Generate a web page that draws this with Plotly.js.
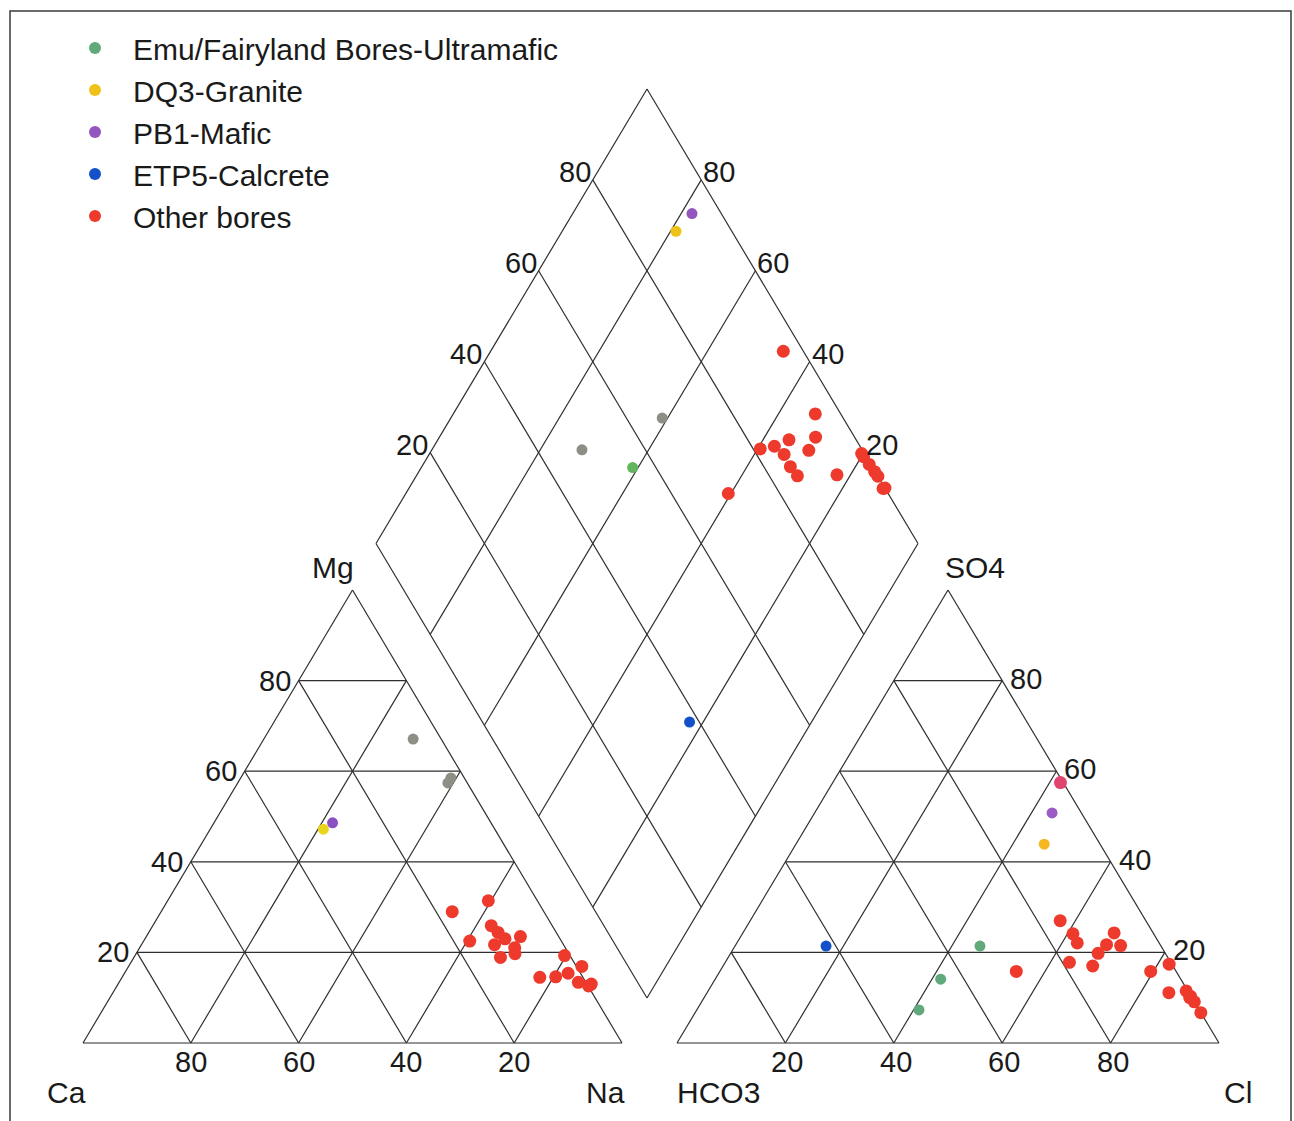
<!DOCTYPE html>
<html>
<head>
<meta charset="utf-8">
<script src="https://cdn.plot.ly/plotly-3.0.1.min.js"></script>
<style>html,body{margin:0;padding:0;background:#fff;}#chart{width:1294px;height:1121px;}</style>
</head>
<body>
<div id="chart"></div>
<script>
// ---------------- DATA (percent of meq) ----------------
const groupNames = ['Emu/Fairyland Bores-Ultramafic', 'DQ3-Granite', 'PB1-Mafic', 'ETP5-Calcrete', 'Other bores'];
const tickValues = [20, 40, 60, 80];

// Emu/Fairyland Bores-Ultramafic
const emuMg   = [67.1, 58.5, 57.4];
const emuNa   = [27.7, 39.0, 39.0];
const emuSO4  = [7.3, 14.1, 21.4];
const emuCl   = [41.0, 41.6, 45.2];

// DQ3-Granite
const dq3Mg  = [47.2];
const dq3Na  = [21.0];
const dq3SO4 = [43.9];
const dq3Cl  = [45.8];

// PB1-Mafic
const pb1Mg  = [48.6];
const pb1Na  = [22.0];
const pb1SO4 = [50.8];
const pb1Cl  = [43.8];

// ETP5-Calcrete
const etpMg  = [14.5];
const etpNa  = [77.5];
const etpSO4 = [21.4];
const etpCl  = [16.8];

// Other bores
const otherMg  = [29.0, 23.0, 24.4, 23.5, 22.5, 25.9, 21.7, 18.9, 21.0, 19.7, 14.5, 31.4, 19.3, 14.6, 15.4, 16.9, 13.4, 13.0, 12.6];
const otherNa  = [54.0, 66.8, 64.8, 69.4, 60.5, 62.8, 65.5, 68.0, 69.6, 70.3, 77.5, 59.5, 79.7, 80.4, 82.3, 84.1, 85.2, 87.8, 87.5];
const otherSO4 = [11.1, 15.8, 19.8, 24.3, 17.8, 27.0, 24.1, 22.1, 21.7, 17.0, 21.5, 15.8, 57.5, 17.4, 11.5, 10.3, 9.1, 6.7, 10.0];
const otherCl  = [85.2, 79.5, 67.8, 68.5, 63.5, 57.2, 61.0, 62.8, 68.4, 68.2, 71.1, 54.7, 42.0, 82.1, 88.2, 89.6, 90.9, 93.3, 89.6];

// ---------------- GEOMETRY (figure pixel space) ----------------
const L = {x0: 83, w: 539, yb: 1043, h: 453};      // cation triangle
const R = {x0: 677, w: 542, yb: 1043, h: 453};     // anion triangle
const D = {xb: 647, yb: 998, hw: 271, hh: 454.5};   // diamond

function catXY(mg, na) { return [L.x0 + (na + mg / 2) * L.w, L.yb - mg * L.h]; }
function anXY(so4, cl) { return [R.x0 + (cl + so4 / 2) * R.w, R.yb - so4 * R.h]; }
function diaXY(u, v) { return [D.xb + (v - u) * D.hw, D.yb - (u + v) * D.hh]; } // u = Ca+Mg, v = SO4+Cl

// ---------------- GRID ----------------
const gx = [], gy = [];
function seg(p, q) { gx.push(p[0], q[0], null); gy.push(p[1], q[1], null); }
function tri(fxy) {
  seg(fxy(0, 0), fxy(0, 1)); seg(fxy(0, 1), fxy(1, 0)); seg(fxy(1, 0), fxy(0, 0));
  tickValues.forEach(tv => {
    const t = tv / 100;
    seg(fxy(t, 0), fxy(t, 1 - t));
    seg(fxy(0, t), fxy(1 - t, t));
    seg(fxy(0, 1 - t), fxy(1 - t, 0));
  });
}
tri(catXY);
tri(anXY);
seg(diaXY(0, 0), diaXY(1, 0)); seg(diaXY(1, 0), diaXY(1, 1));
seg(diaXY(1, 1), diaXY(0, 1)); seg(diaXY(0, 1), diaXY(0, 0));
tickValues.forEach(tv => {
  const t = tv / 100;
  seg(diaXY(t, 0), diaXY(t, 1));
  seg(diaXY(0, t), diaXY(1, t));
});

const traces = [{
  x: gx, y: gy, mode: 'lines', type: 'scatter',
  line: {color: '#2f2f2f', width: 1.2}, hoverinfo: 'skip', showlegend: false
}];

// ---------------- POINTS ----------------
function addGroup(name, rank, mg, na, so4, cl, colors, size, legendOn) {
  const cxy = mg.map((m, i) => catXY(m / 100, na[i] / 100));
  const axy = so4.map((s, i) => anXY(s / 100, cl[i] / 100));
  const dxy = mg.map((m, i) => diaXY(1 - na[i] / 100, (so4[i] + cl[i]) / 100));
  const mk = (pts, col, show) => ({
    type: 'scatter', mode: 'markers', name: name, legendgroup: name, legendrank: rank,
    showlegend: show, x: pts.map(p => p[0]), y: pts.map(p => p[1]),
    marker: {size: size, color: col, line: {width: 0}},
    hovertemplate: name + '<extra></extra>'
  });
  traces.push(mk(cxy, colors.cat, legendOn === 'cat'));
  traces.push(mk(dxy, colors.dia, legendOn === 'dia'));
  traces.push(mk(axy, colors.an, legendOn === 'an'));
}

const emuGreen = '#5fa97a', emuGray = '#8d8f86';
addGroup(groupNames[0], 1, emuMg, emuNa, emuSO4, emuCl,
  {cat: emuGray, dia: [emuGray, '#62b45e', emuGray], an: emuGreen}, 11, 'an');
addGroup(groupNames[1], 2, dq3Mg, dq3Na, dq3SO4, dq3Cl,
  {cat: '#e9d61c', dia: '#efc21a', an: '#f5b820'}, 11, 'dia');
addGroup(groupNames[2], 3, pb1Mg, pb1Na, pb1SO4, pb1Cl,
  {cat: '#8a4fc0', dia: '#9355be', an: '#9b5cc4'}, 11, 'dia');
addGroup(groupNames[3], 4, etpMg, etpNa, etpSO4, etpCl,
  {cat: '#1450c8', dia: '#1450c8', an: '#1450c8'}, 11, 'dia');
const redCol = '#ee3a2c';
addGroup(groupNames[4], 5, otherMg, otherNa, otherSO4, otherCl,
  {cat: redCol, dia: redCol, an: otherMg.map((_, i) => i === 12 ? '#e24470' : redCol)}, 13, 'cat');

// ---------------- LABELS ----------------
const FAM = 'Liberation Sans, Arial, sans-serif';
const TICKFONT = {family: FAM, size: 29, color: '#1a1a1a'};
const NAMEFONT = {family: FAM, size: 30, color: '#1a1a1a'};
const ann = [];
function txt(p, s, xa, ya, dx, dy, font) {
  ann.push({x: p[0], y: p[1], xref: 'x', yref: 'y', text: s, showarrow: false,
    xanchor: xa, yanchor: ya, xshift: dx || 0, yshift: dy || 0, font: font || TICKFONT});
}
tickValues.forEach(tv => {
  const t = tv / 100;
  txt(catXY(0, 1 - t), String(tv), 'center', 'middle', 0, -19);
  txt(catXY(t, 0), String(tv), 'right', 'middle', -6, 0);
  txt(anXY(0, t), String(tv), 'center', 'middle', 2, -19);
  txt(anXY(t, 1 - t), String(tv), 'left', 'middle', 6, 2);
  txt(diaXY(1, t), String(tv), 'right', 'middle', 0, 8);
  txt(diaXY(t, 1), String(tv), 'left', 'middle', 0, 8);
});
txt(catXY(1, 0), 'Mg', 'center', 'middle', -20, 23, NAMEFONT);
txt(catXY(0, 0), 'Ca', 'center', 'middle', -17, -49, NAMEFONT);
txt(catXY(0, 1), 'Na', 'center', 'middle', -17, -49, NAMEFONT);
txt(anXY(1, 0), 'SO4', 'center', 'middle', 27, 23, NAMEFONT);
txt(anXY(0, 0), 'HCO3', 'center', 'middle', 41, -49, NAMEFONT);
txt(anXY(0, 1), 'Cl', 'center', 'middle', 19, -49, NAMEFONT);

const layout = {
  width: 1294, height: 1121,
  margin: {l: 0, r: 0, t: 0, b: 0, pad: 0},
  paper_bgcolor: '#ffffff', plot_bgcolor: '#ffffff',
  xaxis: {range: [0, 1294], visible: false, fixedrange: true},
  yaxis: {range: [1121, 0], visible: false, fixedrange: true},
  showlegend: true,
  legend: {
    x: 57 / 1294, y: 1 - 22 / 1121, xanchor: 'left', yanchor: 'top',
    bgcolor: 'rgba(0,0,0,0)', borderwidth: 0, itemwidth: 66,
    font: NAMEFONT, tracegroupgap: 0, itemsizing: 'constant', traceorder: 'normal'
  },
  shapes: [{type: 'rect', xref: 'x', yref: 'y', x0: 10, y0: 11, x1: 1291, y1: 1135,
    line: {color: '#3a3a3a', width: 1.5}, fillcolor: 'rgba(0,0,0,0)'}],
  annotations: ann,
  hovermode: 'closest'
};

Plotly.newPlot('chart', traces, layout, {displayModeBar: false});
</script>
</body>
</html>
